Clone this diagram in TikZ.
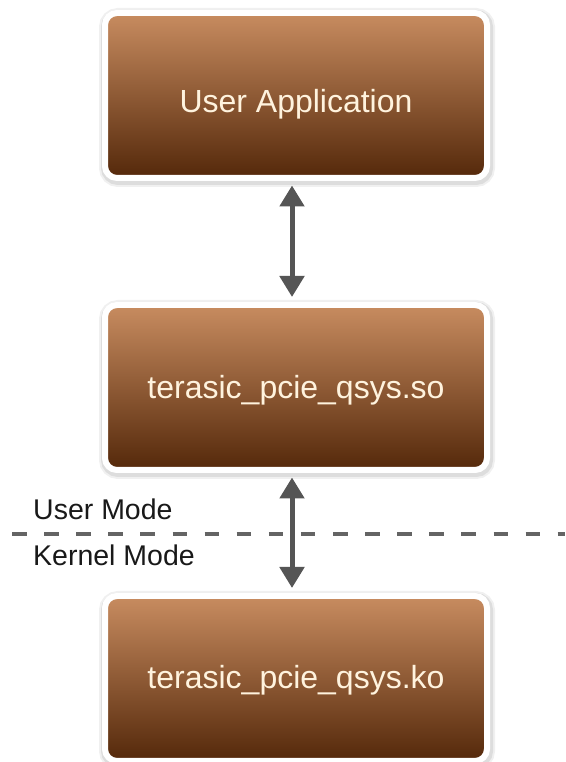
\documentclass[tikz,border=0pt]{standalone}
\usepackage{fontspec}
\setmainfont{Liberation Sans}
\usetikzlibrary{arrows.meta}
\definecolor{boxtop}{RGB}{200,140,96}
\definecolor{boxbot}{RGB}{84,40,10}
\definecolor{boxtext}{RGB}{255,243,222}
\definecolor{arrowgray}{RGB}{85,85,85}
\definecolor{dashgray}{RGB}{100,100,100}
\tikzset{
  modbox/.style={draw=white, line width=6pt, rounded corners=12pt,
    top color=boxtop, bottom color=boxbot,
    minimum width=382pt, minimum height=165pt, inner sep=0pt,
    text=boxtext, font=\fontsize{32}{38}\selectfont,
    preaction={draw=black, draw opacity=0.06, line width=14pt, transform canvas={xshift=1pt,yshift=-2pt}},
    preaction={draw=black, draw opacity=0.08, line width=10pt, transform canvas={xshift=1pt,yshift=-2pt}}},
  biarrow/.style={{Triangle[length=21pt,width=24pt]}-{Triangle[length=21pt,width=24pt]},
    line width=5pt, draw=arrowgray, shorten <=4.5pt, shorten >=5pt},
  modelabel/.style={anchor=base west, inner sep=0pt, text=black!90,
    font=\fontsize{28.5}{34}\selectfont},
  modeline/.style={draw=dashgray, line width=4pt, dash pattern=on 14.5pt off 17.6pt}
}
\newcommand{\lowertext}[2]{\raisebox{-#1}[\height][\depth]{#2}}
\begin{document}
\begin{tikzpicture}[x=1pt,y=1pt]
\useasboundingbox[fill=white] (0,0) rectangle (565,762);
\node[modbox] (app) at (296,666.5) {\lowertext{9pt}{User Application}};
\node[modbox] (so) at (296,374.5) {\lowertext{3pt}{terasic\_pcie\_qsys.so}};
\node[modbox] (ko) at (296,83.5) {\lowertext{2pt}{terasic\_pcie\_qsys.ko}};
\coordinate (dl) at (12,228);
\coordinate (dr) at (565,228);
\draw[modeline] (dl) -- (dr);
\node[modelabel] (um) at (33,242) {User Mode};
\node[modelabel] (km) at (33,196) {Kernel Mode};
\draw[biarrow] ([xshift=-4pt]app.south) -- ([xshift=-4pt]so.north);
\draw[biarrow] ([xshift=-4pt]so.south) -- ([xshift=-4pt]ko.north);
\end{tikzpicture}
\end{document}
